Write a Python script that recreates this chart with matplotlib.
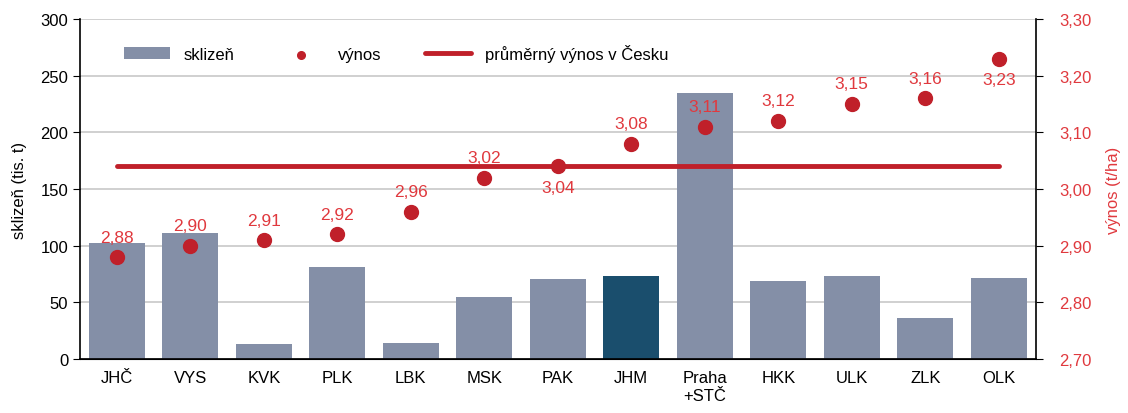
import numpy as np
import matplotlib
matplotlib.use("Agg")
import matplotlib.pyplot as plt

plt.rcParams['font.family'] = ['Liberation Sans', 'DejaVu Sans']
plt.rcParams['font.size'] = 12

kraje = ["JHČ", "VYS", "KVK", "PLK", "LBK", "MSK", "PAK", "JHM", "Praha\n+STČ", "HKK", "ULK", "ZLK", "OLK"]
sklizen = [102, 111, 13, 81.5, 14, 55, 70.5, 73.5, 235, 69, 73.5, 36, 72]
vynos = [2.88, 2.90, 2.91, 2.92, 2.96, 3.02, 3.04, 3.08, 3.11, 3.12, 3.15, 3.16, 3.23]
prumer = 3.04
# label below the dot for these
pod = ["PAK", "OLK"]

seda = "#848fa7"
tmava = "#1a4e6d"
cervena = "#c0202a"
popisky = "#e0393e"

x = np.arange(len(kraje))
barvy = [tmava if k == "JHM" else seda for k in kraje]

fig, ax = plt.subplots(figsize=(11.28, 4.14), dpi=100)
fig.subplots_adjust(left=0.071, right=0.918, top=0.952, bottom=0.13)

ax.bar(x, sklizen, width=0.76, color=barvy, zorder=2, label="sklizeň")
ax.set_ylim(0, 300)
ax.set_yticks(range(0, 301, 50))
ax.set_xlim(-0.5, len(kraje) - 0.5)
ax.set_xticks(x)
ax.set_xticklabels(kraje)
ax.tick_params(axis="x", length=0, pad=8)
ax.tick_params(axis="y", direction="out", length=5)
ax.grid(axis="y", color="#c8c8c8", lw=1.2, zorder=0)
ax.set_axisbelow(True)
ax.set_ylabel("sklizeň (tis. t)", labelpad=10)
for s in ["top", "right"]:
    ax.spines[s].set_visible(False)
ax.spines["left"].set_linewidth(1.2)
ax.spines["bottom"].set_linewidth(1.2)

ax2 = ax.twinx()
ax2.set_ylim(2.70, 3.30)
ax2.set_yticks(np.arange(2.70, 3.301, 0.10))
ax2.set_yticklabels([f"{v:.2f}".replace(".", ",") for v in np.arange(2.70, 3.301, 0.10)], color=popisky)
ax2.tick_params(axis="y", direction="out", length=5, pad=12)
ax2.set_ylabel("výnos (t/ha)", color=popisky, labelpad=10)
for s in ["top", "left"]:
    ax2.spines[s].set_visible(False)
ax2.spines["right"].set_linewidth(1.2)

ax2.plot([x[0], x[-1]], [prumer, prumer], color=cervena, lw=3.5, solid_capstyle="round", zorder=3,
         label="průměrný výnos v Česku")
ax2.scatter(x, vynos, s=100, color=cervena, zorder=4, label="výnos")
for xi, k, v in zip(x, kraje, vynos):
    if k in pod:
        ax2.annotate(f"{v:.2f}".replace(".", ","), (xi, v), xytext=(0, -10), textcoords="offset points",
                     ha="center", va="top", color=popisky, fontsize=12.5)
    else:
        ax2.annotate(f"{v:.2f}".replace(".", ","), (xi, v), xytext=(0, 9), textcoords="offset points",
                     ha="center", va="bottom", color=popisky, fontsize=12.5)

h1, l1 = ax.get_legend_handles_labels()
h2, l2 = ax2.get_legend_handles_labels()
ax2.legend([h1[0], h2[1], h2[0]], [l1[0], l2[1], l2[0]], loc="upper left", bbox_to_anchor=(0.03, 0.97),
           ncol=3, frameon=False, columnspacing=2.6, handlelength=2.8, markerscale=0.55, fontsize=12)

fig.savefig("out.png")
